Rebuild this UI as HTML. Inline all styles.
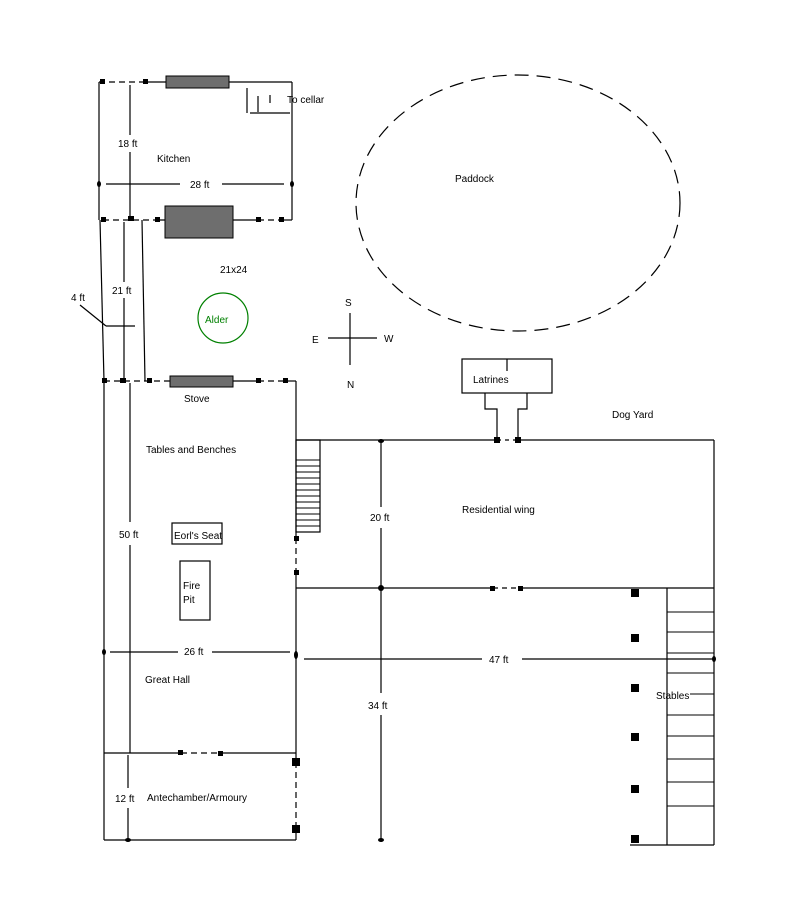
<!DOCTYPE html>
<html><head><style>
html,body{margin:0;padding:0;background:#fff;}
svg text{font-family:"Liberation Sans",sans-serif;font-size:10px;fill:#000;}
</style></head><body>
<svg width="800" height="900" viewBox="0 0 800 900" xmlns="http://www.w3.org/2000/svg">
<rect width="800" height="900" fill="#fff"/>
<g stroke="#000" stroke-width="1.2" fill="none">
<line x1="99" y1="82" x2="145" y2="82" stroke-dasharray="6,4"/>
<line x1="145" y1="82" x2="292" y2="82"/>
<line x1="292" y1="82" x2="292" y2="220"/>
<line x1="99" y1="82" x2="99" y2="220"/>
<line x1="103" y1="220" x2="160" y2="220" stroke-dasharray="6,4"/>
<line x1="160" y1="220" x2="258" y2="220"/>
<line x1="258" y1="220" x2="282" y2="220" stroke-dasharray="6,4"/>
<line x1="282" y1="220" x2="292" y2="220"/>
<line x1="247" y1="88" x2="247" y2="113"/>
<line x1="258" y1="96" x2="258" y2="112"/>
<line x1="270" y1="95" x2="270" y2="103"/>
<line x1="250" y1="113" x2="290" y2="113"/>
<line x1="130" y1="85" x2="130" y2="135"/>
<line x1="130" y1="152" x2="130" y2="220"/>
<line x1="106" y1="184" x2="180" y2="184"/>
<line x1="222" y1="184" x2="284" y2="184"/>
<line x1="100" y1="220" x2="104" y2="381"/>
<line x1="124" y1="222" x2="124" y2="282"/>
<line x1="124" y1="298" x2="124" y2="381"/>
<line x1="142" y1="220" x2="145" y2="381"/>
<line x1="80" y1="305" x2="106" y2="326"/>
<line x1="106" y1="326" x2="135" y2="326"/>
<line x1="104" y1="381" x2="170" y2="381" stroke-dasharray="6,4"/>
<line x1="233" y1="381" x2="258" y2="381"/>
<line x1="258" y1="381" x2="286" y2="381" stroke-dasharray="6,4"/>
<line x1="286" y1="381" x2="296" y2="381"/>
<line x1="296" y1="381" x2="296" y2="538"/>
<line x1="296" y1="538" x2="296" y2="572" stroke-dasharray="6,4"/>
<line x1="296" y1="572" x2="296" y2="762"/>
<line x1="296" y1="762" x2="296" y2="828" stroke-dasharray="6,4"/>
<line x1="296" y1="828" x2="296" y2="840"/>
<line x1="104" y1="381" x2="104" y2="840"/>
<line x1="104" y1="840" x2="296" y2="840"/>
<line x1="104" y1="753" x2="181" y2="753"/>
<line x1="181" y1="753" x2="221" y2="753" stroke-dasharray="6,4"/>
<line x1="221" y1="753" x2="296" y2="753"/>
<line x1="130" y1="383" x2="130" y2="522"/>
<line x1="130" y1="545" x2="130" y2="753"/>
<line x1="110" y1="652" x2="178" y2="652"/>
<line x1="212" y1="652" x2="290" y2="652"/>
<line x1="128" y1="755" x2="128" y2="788"/>
<line x1="128" y1="808" x2="128" y2="840"/>
<rect x="172" y="523" width="50" height="21"/>
<rect x="180" y="561" width="30" height="59"/>
<rect x="296" y="440" width="24" height="92"/>
<g stroke-width="1">
<line x1="296" y1="460" x2="320" y2="460"/><line x1="296" y1="466" x2="320" y2="466"/>
<line x1="296" y1="472" x2="320" y2="472"/><line x1="296" y1="478" x2="320" y2="478"/>
<line x1="296" y1="484" x2="320" y2="484"/><line x1="296" y1="490" x2="320" y2="490"/>
<line x1="296" y1="496" x2="320" y2="496"/><line x1="296" y1="502" x2="320" y2="502"/>
<line x1="296" y1="508" x2="320" y2="508"/><line x1="296" y1="514" x2="320" y2="514"/>
<line x1="296" y1="520" x2="320" y2="520"/><line x1="296" y1="526" x2="320" y2="526"/>
</g>
<line x1="296" y1="440" x2="497" y2="440"/>
<line x1="497" y1="440" x2="518" y2="440" stroke-dasharray="4,4"/>
<line x1="518" y1="440" x2="714" y2="440"/>
<line x1="714" y1="440" x2="714" y2="845"/>
<line x1="296" y1="588" x2="493" y2="588"/>
<line x1="493" y1="588" x2="520" y2="588" stroke-dasharray="5,4"/>
<line x1="520" y1="588" x2="714" y2="588"/>
<line x1="381" y1="443" x2="381" y2="507"/>
<line x1="381" y1="528" x2="381" y2="693"/>
<line x1="381" y1="715" x2="381" y2="840"/>
<line x1="304" y1="659" x2="482" y2="659"/>
<line x1="522" y1="659" x2="714" y2="659"/>
<rect x="462" y="359" width="90" height="34"/>
<line x1="507" y1="359" x2="507" y2="371"/>
<polyline points="485,393 485,409 497,409 497,440"/>
<polyline points="527,393 527,409 518,409 518,440"/>
<line x1="667" y1="588" x2="667" y2="845"/>
<line x1="630" y1="845" x2="714" y2="845"/>
<line x1="690" y1="694" x2="714" y2="694" stroke-width="1"/>
<g stroke-width="1">
<line x1="667" y1="612" x2="714" y2="612"/><line x1="667" y1="632" x2="714" y2="632"/>
<line x1="667" y1="653" x2="714" y2="653"/><line x1="667" y1="673" x2="714" y2="673"/>
<line x1="667" y1="715" x2="714" y2="715"/>
<line x1="667" y1="736" x2="714" y2="736"/><line x1="667" y1="759" x2="714" y2="759"/>
<line x1="667" y1="782" x2="714" y2="782"/><line x1="667" y1="806" x2="714" y2="806"/>
</g>
<ellipse cx="518" cy="203" rx="162" ry="128" stroke-dasharray="14,8"/>
<line x1="350" y1="313" x2="350" y2="365"/>
<line x1="328" y1="338" x2="377" y2="338"/>
<circle cx="223" cy="318" r="25" stroke="#008000"/>
</g>
<g fill="#6e6e6e" stroke="#000">
<rect x="166" y="76" width="63" height="12"/>
<rect x="165" y="206" width="68" height="32"/>
<rect x="170" y="376" width="63" height="11"/>
</g>
<g fill="#000">
<rect x="100" y="79" width="5" height="5"/><rect x="143" y="79" width="5" height="5"/>
<rect x="101" y="217" width="5" height="5"/><rect x="128" y="216" width="6" height="5"/><rect x="155" y="217" width="5" height="5"/>
<rect x="256" y="217" width="5" height="5"/><rect x="279" y="217" width="5" height="5"/>
<rect x="102" y="378" width="5" height="5"/><rect x="120" y="378" width="6" height="5"/><rect x="147" y="378" width="5" height="5"/>
<rect x="256" y="378" width="5" height="5"/><rect x="283" y="378" width="5" height="5"/>
<rect x="294" y="536" width="5" height="5"/><rect x="294" y="570" width="5" height="5"/>
<rect x="178" y="750" width="5" height="5"/><rect x="218" y="751" width="5" height="5"/>
<rect x="292" y="758" width="8" height="8"/><rect x="292" y="825" width="8" height="8"/>
<rect x="494" y="437" width="6" height="6"/><rect x="515" y="437" width="6" height="6"/>
<rect x="490" y="586" width="5" height="5"/><rect x="518" y="586" width="5" height="5"/>
<rect x="631" y="589" width="8" height="8"/><rect x="631" y="634" width="8" height="8"/>
<rect x="631" y="684" width="8" height="8"/><rect x="631" y="733" width="8" height="8"/>
<rect x="631" y="785" width="8" height="8"/><rect x="631" y="835" width="8" height="8"/>
<ellipse cx="381" cy="441" rx="3" ry="2"/><ellipse cx="381" cy="588" rx="3" ry="3"/>
<ellipse cx="99" cy="184" rx="2" ry="3"/><ellipse cx="292" cy="184" rx="2" ry="3"/>
<ellipse cx="104" cy="652" rx="2" ry="3"/><ellipse cx="296" cy="655" rx="2" ry="4"/>
<ellipse cx="128" cy="840" rx="3" ry="2"/><ellipse cx="381" cy="840" rx="3" ry="2"/>
<ellipse cx="714" cy="659" rx="2" ry="3"/>
</g>
<text x="287" y="103">To cellar</text>
<text x="118" y="147">18 ft</text>
<text x="157" y="162">Kitchen</text>
<text x="190" y="188">28 ft</text>
<text x="220" y="273">21x24</text>
<text x="112" y="294">21 ft</text>
<text x="71" y="301">4 ft</text>
<text x="205" y="323" style="fill:#008000">Alder</text>
<text x="345" y="306">S</text>
<text x="312" y="343">E</text>
<text x="384" y="342">W</text>
<text x="347" y="388">N</text>
<text x="455" y="182">Paddock</text>
<text x="473" y="383">Latrines</text>
<text x="612" y="418">Dog Yard</text>
<text x="184" y="402">Stove</text>
<text x="146" y="453">Tables and  Benches</text>
<text x="370" y="521">20 ft</text>
<text x="462" y="513">Residential wing</text>
<text x="119" y="538">50 ft</text>
<text x="174" y="539">Eorl's Seat</text>
<text x="183" y="589">Fire</text>
<text x="183" y="603">Pit</text>
<text x="184" y="655">26 ft</text>
<text x="489" y="663">47 ft</text>
<text x="145" y="683">Great Hall</text>
<text x="656" y="699">Stables</text>
<text x="368" y="709">34 ft</text>
<text x="115" y="802">12 ft</text>
<text x="147" y="801">Antechamber/Armoury</text>
</svg>
</body></html>
